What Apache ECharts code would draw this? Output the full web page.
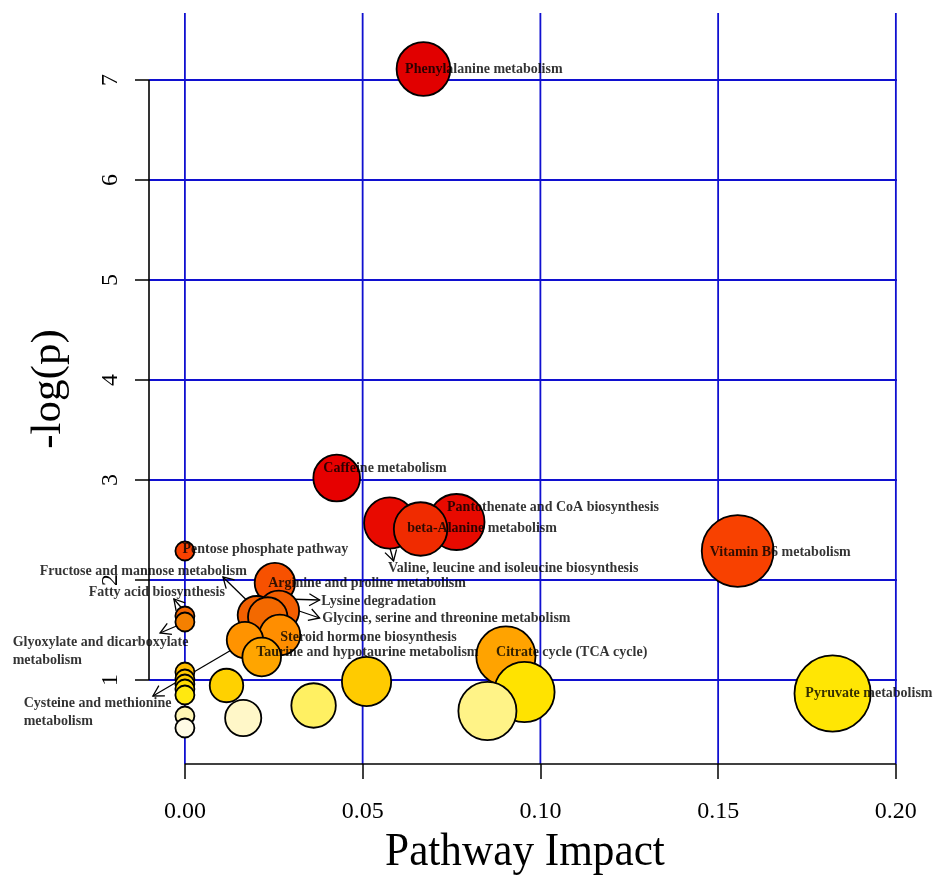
<!DOCTYPE html>
<html><head><meta charset="utf-8">
<script src="https://cdn.jsdelivr.net/npm/echarts@6/dist/echarts.min.js"></script>
<style>html,body{margin:0;padding:0;background:#fff}#c{width:934px;height:883px}</style>
</head><body><div id="c"></div>
<script>
// ---- data (ordered by -log(p) descending, as plotted) ----
const pathways = [
  'Phenylalanine metabolism','Caffeine metabolism','Pantothenate and CoA biosynthesis',
  'Valine, leucine and isoleucine biosynthesis','beta-Alanine metabolism','Vitamin B6 metabolism',
  'Pentose phosphate pathway','Arginine and proline metabolism','Lysine degradation',
  'Fructose and mannose metabolism','Fatty acid biosynthesis','Glycine, serine and threonine metabolism',
  'Glyoxylate and dicarboxylate metabolism','Steroid hormone biosynthesis','Cysteine and methionine metabolism',
  'Citrate cycle (TCA cycle)','Taurine and hypotaurine metabolism',
  'p18','p19','p20','p21','p22','p23','p24','Pyruvate metabolism','p26','p27','p28','p29','p30','p31'
];
const impact = [0.0671,0.0427,0.0764,0.0576,0.0663,0.1555,0.0,0.0253,0.0264,0.0202,0.0,0.0233,
  0.0,0.0267,0.0169,0.0903,0.0216,
  0.0,0.0,0.0511,0.0,0.0117,0.0,0.0955,0.1822,0.0,0.0362,0.0851,0.0,0.0164,0.0];
const logP = [7.11,3.02,2.58,2.57,2.51,2.29,2.29,1.97,1.69,1.65,1.64,1.63,
  1.58,1.45,1.40,1.24,1.23,
  1.08,1.01,0.985,0.96,0.945,0.91,0.88,0.865,0.85,0.745,0.69,0.64,0.62,0.52];
const xTicks = [0, 0.05, 0.10, 0.15, 0.20];
const yTicks = [1, 2, 3, 4, 5, 6, 7];

// ---- annotations (text + anchor in data units) ----
const annText = [
  'Phenylalanine metabolism','Caffeine metabolism','Pantothenate and CoA biosynthesis',
  'beta-Alanine metabolism','Valine, leucine and isoleucine biosynthesis','Pentose phosphate pathway',
  'Vitamin B6 metabolism','Pyruvate metabolism','Citrate cycle (TCA cycle)',
  'Arginine and proline metabolism','Lysine degradation','Glycine, serine and threonine metabolism',
  'Steroid hormone biosynthesis','Taurine and hypotaurine metabolism','Fructose and mannose metabolism',
  'Fatty acid biosynthesis','Glyoxylate and dicarboxylate\nmetabolism','Cysteine and methionine\nmetabolism'
];
const annX = [0.0618,0.0388,0.0736,0.0624,0.0570,-0.0008,0.1475,0.1744,0.0874,
  0.0233,0.0382,0.0385,0.0267,0.0199,-0.0410,-0.0272,-0.0486,-0.0455];
const annY = [7.11,3.12,2.73,2.52,2.12,2.31,2.28,0.87,1.28,
  1.97,1.79,1.62,1.43,1.28,2.09,1.88,1.29,0.675];
// leader arrows: start (x,y) -> end (x,y)
const arrowX1 = [0.0556,0.0202,0.0003,0.0003,0.0169,0.0281,0.0272];
const arrowY1 = [2.58,1.70,1.67,1.58,1.38,1.81,1.75];
const arrowX2 = [0.0587,0.0107,-0.0031,-0.0070,-0.0090,0.0379,0.0379];
const arrowY2 = [2.19,2.03,1.81,1.47,0.84,1.80,1.62];

// ---- layout ----
const X_MIN = -0.0101, X_MAX = 0.2006, Y_MIN = 0.16, Y_MAX = 7.67;
const SERIF = '"Liberation Serif","Times New Roman",serif';

const colorStops = [
  [0.50,'#fffcec'],[0.62,'#fff7c8'],[0.70,'#fff27e'],[0.76,'#ffef58'],[0.87,'#ffe600'],
  [0.95,'#ffd000'],[1.05,'#ffc200'],[1.24,'#ffa300'],[1.45,'#ff8e00'],[1.58,'#f58000'],
  [1.65,'#f26000'],[2.0,'#f75000'],[2.3,'#f84000'],[2.52,'#f02a00'],[2.56,'#e80a00'],
  [3.0,'#e60000'],[7.5,'#e00000']
];
function hex2rgb(h){return [1,3,5].map(i=>parseInt(h.substr(i,2),16));}
function colorFor(v){
  if (v <= colorStops[0][0]) return colorStops[0][1];
  for (let i=1;i<colorStops.length;i++){
    if (v <= colorStops[i][0]){
      const [a,ca]=colorStops[i-1],[b,cb]=colorStops[i];
      const t=(v-a)/(b-a), A=hex2rgb(ca), B=hex2rgb(cb);
      return 'rgb('+A.map((c,k)=>Math.round(c+(B[k]-c)*t)).join(',')+')';
    }
  }
  return colorStops[colorStops.length-1][1];
}
function sizeFor(x){ return 2*(9.5 + 67*Math.sqrt(x)); }

const circleData = impact.map((x,i)=>[x, logP[i], pathways[i]]);
const labelData = annText.map((t,i)=>[annX[i], annY[i], t]);
const arrowData = arrowX1.map((x,i)=>[x, arrowY1[i], arrowX2[i], arrowY2[i]]);
const gridSegs = [];
xTicks.forEach(t=>gridSegs.push([t, Y_MIN, t, Y_MAX]));
yTicks.forEach(t=>gridSegs.push([X_MIN, t, X_MAX - 0.0003, t]));
const axisSegs = [
  [X_MIN, yTicks[0], X_MIN, yTicks[yTicks.length-1]],
  [xTicks[0], Y_MIN, xTicks[xTicks.length-1], Y_MIN]
];

function segRenderer(color, width){
  return function(params, api){
    const p1 = api.coord([api.value(0), api.value(1)]);
    const p2 = api.coord([api.value(2), api.value(3)]);
    return {type:'line', shape:{x1:p1[0],y1:p1[1],x2:p2[0],y2:p2[1]},
      style:{stroke:color, lineWidth:width}};
  };
}
function arrowRenderer(params, api){
  const p1 = api.coord([api.value(0), api.value(1)]);
  const p2 = api.coord([api.value(2), api.value(3)]);
  const ang = Math.atan2(p2[1]-p1[1], p2[0]-p1[0]);
  const L = 12, a = Math.PI/6;
  const h1 = [p2[0]-L*Math.cos(ang-a), p2[1]-L*Math.sin(ang-a)];
  const h2 = [p2[0]-L*Math.cos(ang+a), p2[1]-L*Math.sin(ang+a)];
  return {type:'group', children:[
    {type:'line', shape:{x1:p1[0],y1:p1[1],x2:p2[0],y2:p2[1]}, style:{stroke:'#000', lineWidth:1.3}},
    {type:'polyline', shape:{points:[h1,p2,h2]}, style:{stroke:'#000', fill:null, lineWidth:1.3}}
  ]};
}

const chart = echarts.init(document.getElementById('c'), null, {renderer:'canvas'});
chart.setOption({
  animation:false,
  backgroundColor:'#fff',
  grid:{left:149, right:36, top:13, bottom:119, containLabel:false},
  xAxis:{type:'value', min:X_MIN, max:X_MAX,
    splitLine:{show:false}, axisLine:{show:false, onZero:false},
    axisTick:{show:true, customValues:xTicks, length:15, lineStyle:{color:'#000', width:1.5}},
    axisLabel:{customValues:xTicks, formatter:v=>v.toFixed(2), fontFamily:SERIF, fontSize:24, color:'#000', margin:36}
  },
  yAxis:{type:'value', min:Y_MIN, max:Y_MAX,
    splitLine:{show:false}, axisLine:{show:false, onZero:false},
    axisTick:{show:true, customValues:yTicks, length:14, lineStyle:{color:'#000', width:1.5}},
    axisLabel:{customValues:yTicks, formatter:v=>String(v), rotate:90, fontFamily:SERIF, fontSize:24, color:'#000', margin:26}
  },
  graphic:[
    {type:'text', x:49, y:389, rotation:Math.PI/2,
      style:{text:'-log(p)', font:'43px '+SERIF, fill:'#000', align:'center', verticalAlign:'middle'}},
    {type:'text', x:525, y:853, scaleX:0.92,
      style:{text:'Pathway Impact', font:'47px '+SERIF, fill:'#000', align:'center', verticalAlign:'middle'}}
  ],
  series:[
    {type:'custom', name:'grid', z:1, silent:true, renderItem:segRenderer('#1010d0', 1.8),
      encode:{x:[0,2], y:[1,3]}, data:gridSegs},
    {type:'custom', name:'axes', z:2, silent:true, renderItem:segRenderer('#000', 1.6),
      encode:{x:[0,2], y:[1,3]}, data:axisSegs},
    {type:'custom', name:'arrows', z:3, silent:true, renderItem:arrowRenderer,
      encode:{x:[0,2], y:[1,3]}, data:arrowData},
    {type:'scatter', name:'pathways', z:4, silent:true, clip:false,
      symbolSize:d=>sizeFor(d[0]),
      itemStyle:{color:p=>colorFor(p.data[1]), borderColor:'#000', borderWidth:1.8, opacity:1},
      data:circleData},
    {type:'scatter', name:'labels', z:5, silent:true, clip:false,
      symbolSize:1, itemStyle:{color:'rgba(0,0,0,0)'},
      label:{show:true, position:'right', distance:0, formatter:p=>p.data[2],
        fontFamily:SERIF, fontWeight:'bold', fontSize:14, color:'#000', lineHeight:18, align:'left'},
      data:labelData}
  ]
});
</script></body></html>
